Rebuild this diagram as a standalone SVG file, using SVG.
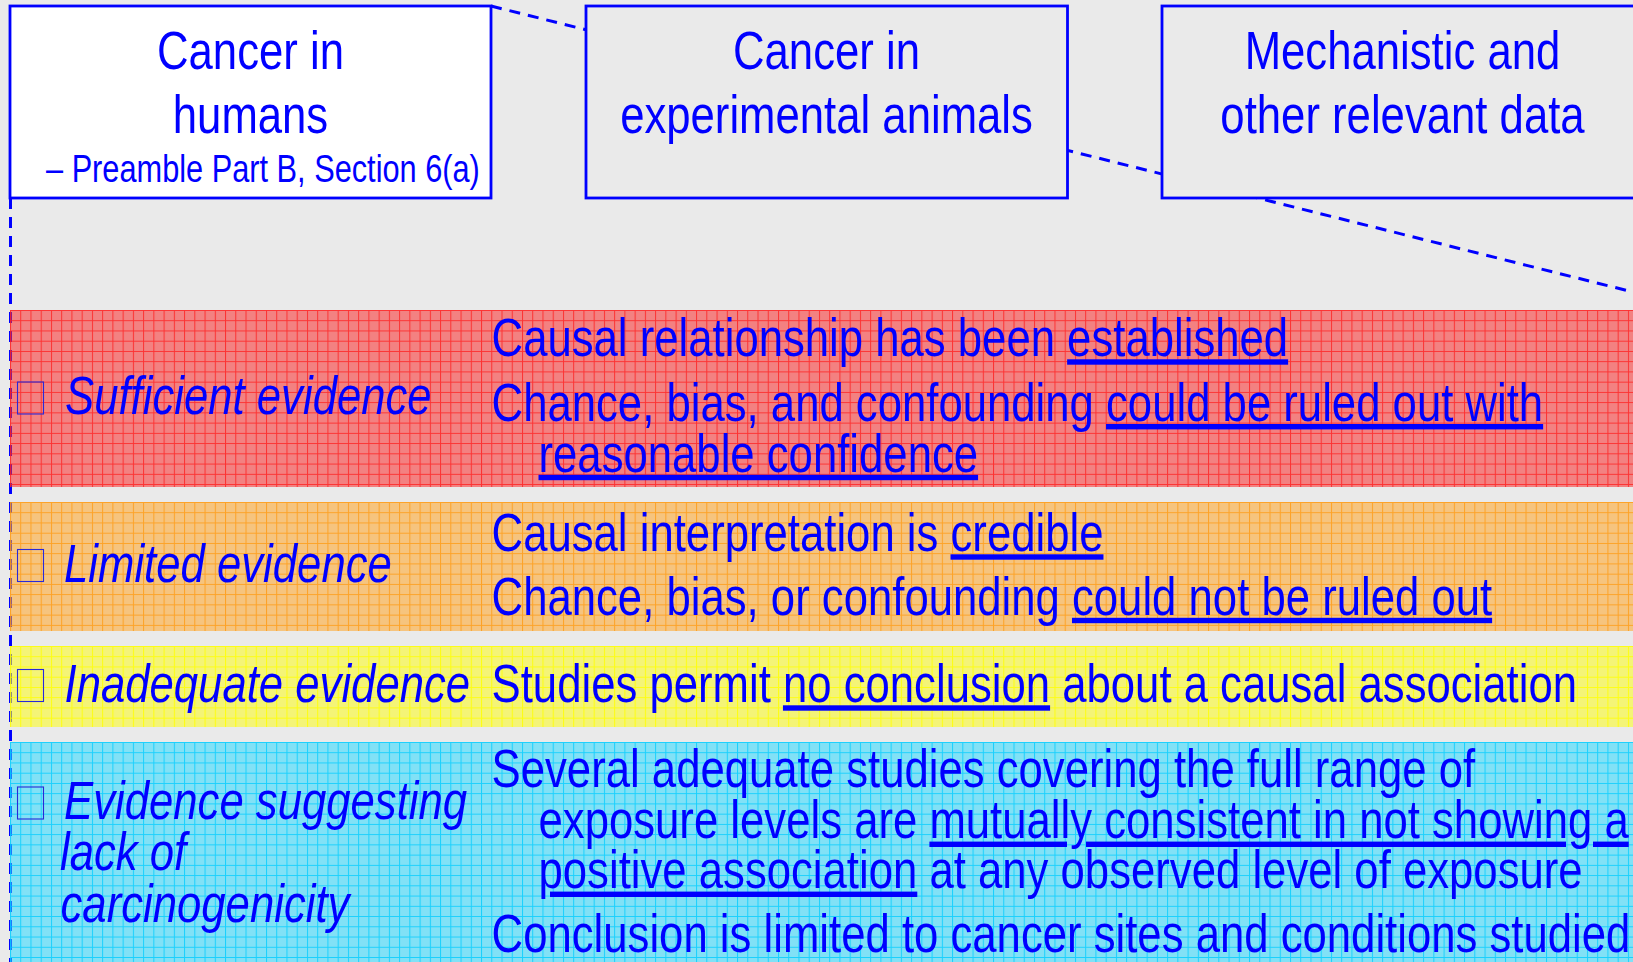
<svg xmlns="http://www.w3.org/2000/svg" width="1633" height="962" viewBox="0 0 1633 962">
  <defs>
    <style>
      .t{font-family:"Liberation Sans",Arial,sans-serif;font-size:54px;fill:#0000FF}
      .i{font-style:italic}
      .u{text-decoration:underline}
      .c{text-anchor:middle}
      .s{font-size:38px}
      .box{stroke:#0000FF;stroke-width:2.8}
      .link{fill:none;stroke:#0000FF;stroke-width:3;stroke-dasharray:11 8}
      .chk{fill:none;stroke:#2828D8;stroke-width:1.1}
    </style>
    <!-- small-grid fills for the four evidence rows -->
    <pattern id="gridRed" patternUnits="userSpaceOnUse" x="10" y="310" width="10.24" height="10.24">
      <rect width="10.24" height="10.24" fill="#F92A2A" fill-opacity="0.55"/>
      <path d="M0 0.5H10.24M0.5 0V10.24" stroke="#FF1E1E" stroke-opacity="0.8" stroke-width="1"/>
    </pattern>
    <pattern id="gridOrange" patternUnits="userSpaceOnUse" x="10" y="502" width="10.24" height="10.24">
      <rect width="10.24" height="10.24" fill="#FFA425" fill-opacity="0.55"/>
      <path d="M0 0.5H10.24M0.5 0V10.24" stroke="#FF9A10" stroke-opacity="0.8" stroke-width="1"/>
    </pattern>
    <pattern id="gridYellow" patternUnits="userSpaceOnUse" x="10" y="646" width="10.24" height="10.24">
      <rect width="10.24" height="10.24" fill="#FBFB18" fill-opacity="0.55"/>
      <path d="M0 0.5H10.24M0.5 0V10.24" stroke="#FFFF00" stroke-opacity="0.85" stroke-width="1"/>
    </pattern>
    <pattern id="gridCyan" patternUnits="userSpaceOnUse" x="10" y="742" width="10.24" height="10.24">
      <rect width="10.24" height="10.24" fill="#2AD9FF" fill-opacity="0.55"/>
      <path d="M0 0.5H10.24M0.5 0V10.24" stroke="#00CCFF" stroke-opacity="0.8" stroke-width="1"/>
    </pattern>
  </defs>

  <rect width="1633" height="962" fill="#EAEAEA"/>

  <!-- callout lines from the human-cancer box -->
  <g id="connectors">
    <path class="link" d="M491 6L1645 295"/>
    <path class="link" d="M10.5 198V962"/>
  </g>

  <!-- evidence rows -->
  <g id="row-sufficient">
    <rect x="10" y="310" width="1623" height="177" fill="url(#gridRed)"/>
    <rect class="chk" x="17.5" y="382" width="26" height="32"/>
    <text class="t i" transform="translate(65 414) scale(0.809 1)">Sufficient evidence</text>
    <text class="t" transform="translate(491.6 356) scale(0.809 1)">Causal relationship has been <tspan class="u">established</tspan></text>
    <text class="t" transform="translate(491.6 420.7) scale(0.809 1)">Chance, bias, and confounding <tspan class="u">could be ruled out with</tspan></text>
    <text class="t" transform="translate(538.5 471.5) scale(0.809 1)"><tspan class="u">reasonable confidence</tspan></text>
  </g>

  <g id="row-limited">
    <rect x="10" y="502" width="1623" height="129" fill="url(#gridOrange)"/>
    <rect class="chk" x="17.5" y="549.5" width="26" height="32"/>
    <text class="t i" transform="translate(64 582) scale(0.809 1)">Limited evidence</text>
    <text class="t" transform="translate(491.6 551) scale(0.809 1)">Causal interpretation is <tspan class="u">credible</tspan></text>
    <text class="t" transform="translate(491.6 614.5) scale(0.809 1)">Chance, bias, or confounding <tspan class="u">could not be ruled out</tspan></text>
  </g>

  <g id="row-inadequate">
    <rect x="10" y="646" width="1623" height="81" fill="url(#gridYellow)"/>
    <rect class="chk" x="17.5" y="669.5" width="26" height="32"/>
    <text class="t i" transform="translate(64.5 702) scale(0.809 1)">Inadequate evidence</text>
    <text class="t" transform="translate(491.6 702) scale(0.809 1)">Studies permit <tspan class="u">no conclusion</tspan> about a causal association</text>
  </g>

  <g id="row-lack">
    <rect x="10" y="742" width="1623" height="220" fill="url(#gridCyan)"/>
    <rect class="chk" x="17.5" y="787" width="26" height="32"/>
    <text class="t i" transform="translate(64 818.5) scale(0.809 1)">Evidence suggesting</text>
    <text class="t i" transform="translate(60 870) scale(0.809 1)">lack of</text>
    <text class="t i" transform="translate(60.5 921.7) scale(0.809 1)">carcinogenicity</text>
    <text class="t" transform="translate(491.6 786.7) scale(0.809 1)">Several adequate studies covering the full range of</text>
    <text class="t" transform="translate(538.5 838.3) scale(0.809 1)">exposure levels are <tspan class="u">mutually consistent in not showing a</tspan></text>
    <text class="t" transform="translate(538.5 888.3) scale(0.809 1)"><tspan class="u">positive association</tspan> at any observed level of exposure</text>
    <text class="t" transform="translate(491.6 952) scale(0.809 1)">Conclusion is limited to cancer sites and conditions studied</text>
  </g>

  <!-- header boxes -->
  <g id="box-humans">
    <rect class="box" x="10" y="6" width="481" height="192" fill="#FFFFFF"/>
    <text class="t c" transform="translate(250.5 69.3) scale(0.809 1)">Cancer in</text>
    <text class="t c" transform="translate(250.5 132.7) scale(0.809 1)">humans</text>
    <text class="t s" transform="translate(46 181.7) scale(0.809 1)">– Preamble Part B, Section 6(a)</text>
  </g>

  <g id="box-animals">
    <rect class="box" x="586" y="6" width="481.5" height="192" fill="#EAEAEA"/>
    <text class="t c" transform="translate(826.5 69.3) scale(0.809 1)">Cancer in</text>
    <text class="t c" transform="translate(826.5 133.3) scale(0.809 1)">experimental animals</text>
  </g>

  <g id="box-mechanistic">
    <rect class="box" x="1162" y="6" width="481" height="192" fill="#EAEAEA"/>
    <text class="t c" transform="translate(1402.5 69.3) scale(0.809 1)">Mechanistic and</text>
    <text class="t c" transform="translate(1402.5 133.3) scale(0.809 1)">other relevant data</text>
  </g>
</svg>
